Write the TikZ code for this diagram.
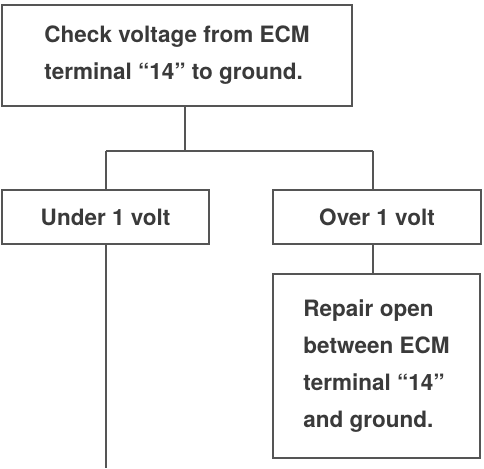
\documentclass[tikz,border=0pt]{standalone}
\usepackage{fontspec}
\setmainfont{TeX Gyre Heros}
\usepackage{tikz}
\usetikzlibrary{positioning}
\usepackage{xcolor}
\definecolor{ink}{HTML}{3A3A3A}
\definecolor{rule}{HTML}{555555}

\begin{document}
\begin{tikzpicture}[
    x=1pt, y=-1pt,
    every node/.style={font=\fontsize{22.5}{37}\selectfont\bfseries, text=ink},
    box/.style={draw=rule, line width=1.8pt, align=left, inner sep=0pt},
    link/.style={draw=rule, line width=1.8pt}
]
\useasboundingbox[fill=white] (0,0) rectangle (484,468);
\node[box, minimum width=350pt, minimum height=101pt] (check) at (177,55.5) {Check voltage from ECM\\terminal “14” to ground.};
\node[box, minimum width=207pt, minimum height=54pt] (under) at (105.5,217) {Under 1 volt};
\node[box, minimum width=208pt, minimum height=54pt] (over) at (377,217) {Over 1 volt};
\node[box, minimum width=207pt, minimum height=184pt] (repair) at (376.5,366) {Repair open\\between ECM\\terminal “14”\\and ground.};

\coordinate (jm) at (185,151);
\coordinate (jl) at (106,151);
\coordinate (jr) at (373,151);
\coordinate (down) at (106,468);

\draw[link] (check.south -| jm) -- (jm);
\draw[link] (jl) -- (jr);
\draw[link] (jl) -- (jl |- under.north);
\draw[link] (jr) -- (jr |- over.north);
\draw[link] (under.south -| jl) -- (down);
\draw[link] (over.south -| jr) -- (jr |- repair.north);
\end{tikzpicture}
\end{document}
